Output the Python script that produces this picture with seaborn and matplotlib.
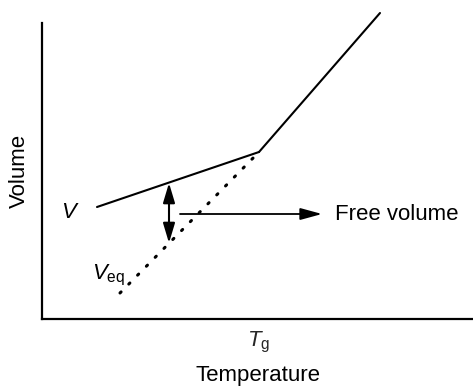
import matplotlib
matplotlib.use("Agg")
import matplotlib.pyplot as plt
import seaborn as sns
import pandas as pd

# ---- data (arbitrary units) ----
temp_glass = [55, 217]
vol_glass = [112, 167]
temp_liquid = [217, 338]
vol_liquid = [167, 306]
temp_eq = [78, 217]
vol_eq = [26, 167]
tg_value = 217
free_vol_x = 127
free_vol_top = 136
free_vol_bottom = 76
label_arrow_start = [138, 105]
label_arrow_end = [280, 105]
xtick_labels = ["$T_{\\mathrm{g}}$"]

sns.set_theme(style="white")
plt.rcParams["font.family"] = ["Liberation Sans", "DejaVu Sans"]
plt.rcParams["mathtext.fontset"] = "custom"
plt.rcParams["mathtext.rm"] = "Liberation Sans"
plt.rcParams["mathtext.it"] = "Liberation Sans:italic"

fig = plt.figure(figsize=(4.73, 3.88), dpi=100)
ax = fig.add_axes([42 / 473, 69 / 388, 431 / 473, 296 / 388])

glass = pd.DataFrame({"T": temp_glass, "V": vol_glass})
liquid = pd.DataFrame({"T": temp_liquid, "V": vol_liquid})
eq = pd.DataFrame({"T": temp_eq, "V": vol_eq})

sns.lineplot(data=glass, x="T", y="V", ax=ax, color="black", lw=1.5)
sns.lineplot(data=liquid, x="T", y="V", ax=ax, color="black", lw=1.5)
sns.lineplot(data=eq, x="T", y="V", ax=ax, color="black", lw=2.2,
             linestyle=(0, (0.5, 3.6)), dash_capstyle="round")
for ln in ax.lines:
    ln.set_clip_on(False)

ax.set_xlim(0, 431)
ax.set_ylim(0, 296)

# double arrow (free volume)
ax.annotate("", xy=(free_vol_x, free_vol_top), xytext=(free_vol_x, free_vol_bottom),
            arrowprops=dict(arrowstyle="<|-|>,head_length=1.0,head_width=0.3",
                            color="black", lw=1.5, shrinkA=0, shrinkB=0))
# pointer arrow to label
ax.annotate("", xy=tuple(label_arrow_end), xytext=tuple(label_arrow_start),
            arrowprops=dict(arrowstyle="-|>,head_length=1.1,head_width=0.3",
                            color="black", lw=1.3, shrinkA=0, shrinkB=0))
ax.text(label_arrow_end[0] + 13, label_arrow_end[1], "Free volume",
        fontsize=16, va="center", ha="left", color="black")

ax.text(28, 106, "$V$", fontsize=16, va="center", ha="center", color="black")
ax.text(50, 44, "$V_{\\mathrm{eq}}$", fontsize=16, va="center", ha="left", color="black")

ax.set_xticks([tg_value])
ax.set_xticklabels(xtick_labels, fontsize=16)
ax.set_yticks([])
ax.tick_params(axis="x", length=0, pad=8)
ax.set_xlabel("Temperature", fontsize=16, labelpad=7, color="black")
ax.set_ylabel("Volume", fontsize=16, labelpad=9, color="black")

sns.despine(ax=ax)
for s in ["left", "bottom"]:
    ax.spines[s].set_color("black")
    ax.spines[s].set_linewidth(1.6)

fig.savefig("out.png", dpi=100)
